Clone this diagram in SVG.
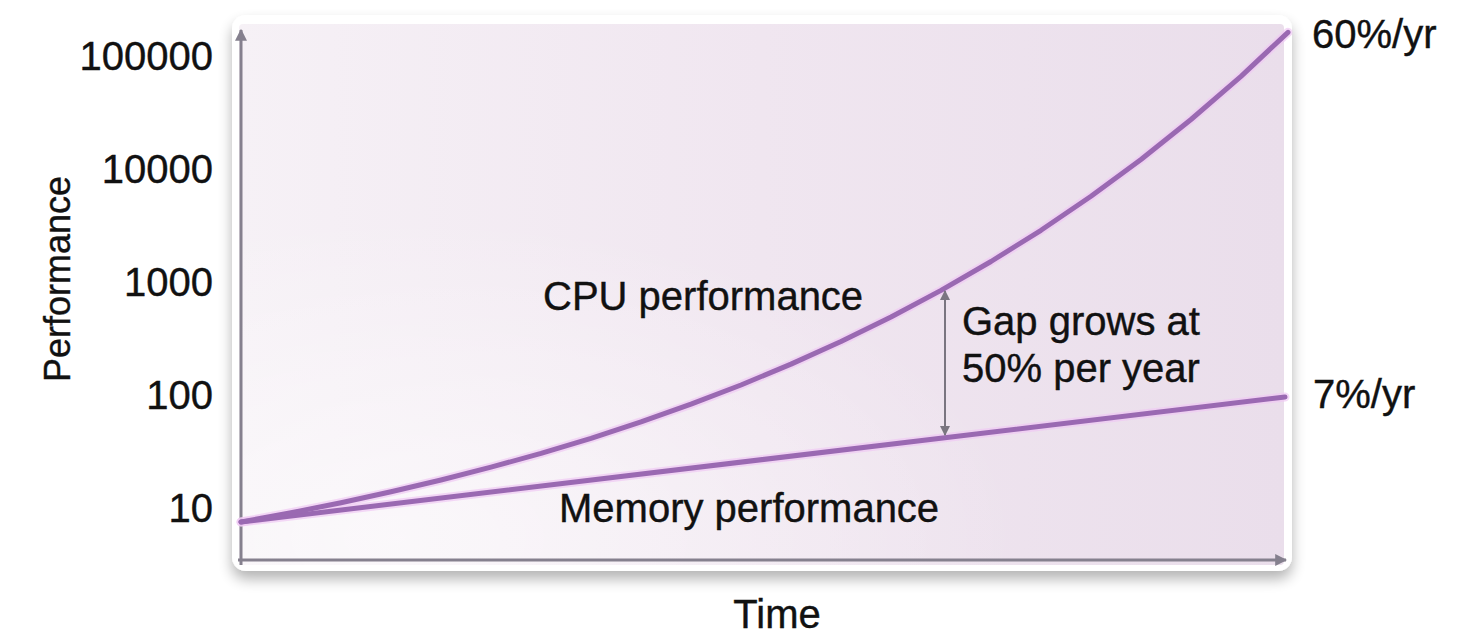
<svg xmlns="http://www.w3.org/2000/svg" width="1475" height="636" viewBox="0 0 1475 636">
  <style>
    .lbl { font-family: "Liberation Sans", Arial, sans-serif; font-size: 40px; fill: #111111; stroke: #111111; stroke-width: 0.4; }
    .tick { font-family: "Liberation Sans", Arial, sans-serif; font-size: 40px; fill: #111111; stroke: #111111; stroke-width: 0.4; text-anchor: end; }
    .curve { fill: none; stroke: #9a69b2; stroke-width: 5; stroke-linecap: round; stroke-linejoin: round; }
    .glow { fill: none; stroke: #efc9f4; stroke-width: 9; stroke-linecap: round; stroke-linejoin: round; opacity: 0.7; }
    .axis { stroke: #85808e; stroke-width: 3; fill: none; }
  </style>
  <defs>
    <linearGradient id="bg" x1="0" y1="0" x2="1" y2="0">
      <stop offset="0" stop-color="#f6f1f6"/>
      <stop offset="0.5" stop-color="#f0e6f0"/>
      <stop offset="1" stop-color="#eadeeb"/>
    </linearGradient>
    <radialGradient id="light" cx="0.15" cy="0.95" r="0.6">
      <stop offset="0" stop-color="#ffffff" stop-opacity="0.6"/>
      <stop offset="1" stop-color="#ffffff" stop-opacity="0"/>
    </radialGradient>
    <filter id="shadow" x="-5%" y="-5%" width="110%" height="120%">
      <feGaussianBlur in="SourceAlpha" stdDeviation="7"/>
      <feOffset dx="0" dy="8" result="b"/>
      <feComponentTransfer><feFuncA type="linear" slope="0.3"/></feComponentTransfer>
      <feMerge><feMergeNode/><feMergeNode in="SourceGraphic"/></feMerge>
    </filter>
    <marker id="ah" viewBox="0 0 10 10" refX="9" refY="5" markerWidth="4" markerHeight="4" orient="auto-start-reverse" markerUnits="strokeWidth">
      <path d="M0,0 L10,5 L0,10 z" fill="#85808e"/>
    </marker>
    <marker id="gh" viewBox="0 0 10 10" refX="9" refY="5" markerWidth="5" markerHeight="5" orient="auto-start-reverse" markerUnits="strokeWidth">
      <path d="M0,0 L10,5 L0,10 z" fill="#7a7580"/>
    </marker>
  </defs>
  <rect width="1475" height="636" fill="#ffffff"/>

  <g id="chart-frame">
    <rect x="232" y="15" width="1060" height="556" rx="14" fill="#ffffff" filter="url(#shadow)"/>
    <rect x="239" y="24" width="1045" height="541" rx="4" fill="url(#bg)"/>
    <rect x="239" y="24" width="1045" height="541" rx="4" fill="url(#light)"/>
  </g>

  <g id="axes">
    <line class="axis" x1="241" y1="565" x2="241" y2="30" marker-end="url(#ah)"/>
    <line class="axis" x1="238" y1="560" x2="1286" y2="560" marker-end="url(#ah)"/>
  </g>

  <g id="y-ticks">
    <text class="tick" x="213" y="70">100000</text>
    <text class="tick" x="213" y="183">10000</text>
    <text class="tick" x="213" y="296">1000</text>
    <text class="tick" x="213" y="409">100</text>
    <text class="tick" x="213" y="522">10</text>
  </g>

  <g id="axis-titles">
    <text class="lbl" style="font-size:36px" text-anchor="middle" transform="translate(70,279) rotate(-90)">Performance</text>
    <text class="lbl" text-anchor="middle" x="777" y="628">Time</text>
  </g>

  <g id="connectors">
    <polyline class="glow" points="241,522 1285,397"/>
    <polyline class="glow" points="241,522 291,512.8 341,502.7 391,491.8 441,480 491,467.2 541,453.4 591,438.3 641,421.9 691,404.2 741,385 791,364.1 841,341.5 891,317 941,290.4 991,261.5 1041,230.3 1091,196.3 1141,159.5 1191,119.5 1241,76.3 1288,32.3"/>
    <polyline id="memory-curve" class="curve" points="241,522 1285,397"/>
    <polyline id="cpu-curve" class="curve" points="241,522 291,512.8 341,502.7 391,491.8 441,480 491,467.2 541,453.4 591,438.3 641,421.9 691,404.2 741,385 791,364.1 841,341.5 891,317 941,290.4 991,261.5 1041,230.3 1091,196.3 1141,159.5 1191,119.5 1241,76.3 1288,32.3"/>
    <line id="gap-arrow" x1="945" y1="291" x2="945" y2="435" stroke="#7a7580" stroke-width="2" marker-start="url(#gh)" marker-end="url(#gh)"/>
  </g>

  <g id="labels">
    <text class="lbl" x="543" y="310">CPU performance</text>
    <text class="lbl" x="559" y="522">Memory performance</text>
    <text class="lbl" x="962" y="335">Gap grows at</text>
    <text class="lbl" x="962" y="382">50% per year</text>
    <text class="lbl" x="1312" y="48">60%/yr</text>
    <text class="lbl" x="1313" y="408">7%/yr</text>
  </g>
</svg>
